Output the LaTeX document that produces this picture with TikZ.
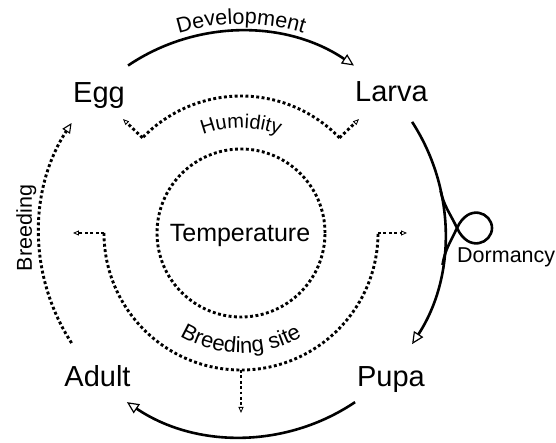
\documentclass[tikz,border=0pt]{standalone}
\usepackage{fontspec}
\setmainfont{Liberation Sans}
\usetikzlibrary{arrows.meta,decorations.text}
\newcommand\stagefont{\fontsize{29}{29}\selectfont}
\newcommand\arcfont{\fontsize{21.5}{21.5}\selectfont}
\newcommand\sitefont{\fontsize{22}{22}\selectfont}
\newcommand\humfont{\fontsize{20}{20}\selectfont}
\begin{document}
\begin{tikzpicture}[x=1pt,y=1pt,
  solidline/.style={line width=2.6pt},
  dotline/.style={line width=2.9pt, dash pattern=on 2.9pt off 2.5pt},
  bigtip/.style={-{Triangle[open,length=12pt,width=11pt,line width=1.2pt]}},
  midtip/.style={-{Triangle[open,length=10pt,width=9pt,line width=1.1pt]}},
  smalltip/.style={-{Triangle[open,length=6pt,width=5pt,line width=0.8pt]}},
  stage/.style={font=\stagefont, anchor=base, inner sep=0pt},
  lbl/.style={inner sep=0pt}]
\useasboundingbox (-241,-210) rectangle (315,233);

% stage labels
\node[stage] (egg) at (-142,130) {Egg};
\node[stage] (larva) at (150.5,131) {Larva};
\node[stage] (adult) at (-143.5,-154) {Adult};
\node[stage] (pupa) at (150,-154) {Pupa};
\node[lbl, font=\fontsize{25}{25}\selectfont, anchor=base] (temp) at (-1,-9) {Temperature};
\node[lbl, font=\fontsize{21.5}{21.5}\selectfont, anchor=base west] (dorm) at (216,-30) {Dormancy};
\node[lbl, font=\arcfont, rotate=90, anchor=base] (breed) at (-209,5) {Breeding};

% temperature circle
\node[draw, circle, dotline, minimum size=168pt, inner sep=0pt] (tcirc) at (0,0) {};

% humidity arc
\coordinate (hL) at (136:137);
\coordinate (hR) at (44:137);
\coordinate (hLt) at (136:164);
\coordinate (hRt) at (44:164);
\draw[dotline] (hR) arc[start angle=44, end angle=136, radius=137];
\draw[dotline, smalltip] (hL) -- (hLt);
\draw[dotline, smalltip] (hR) -- (hRt);
\path[decorate, decoration={text along path, text={|\humfont|Humidity}, text align=center}]
  (135:105) arc[start angle=135, end angle=45, radius=105];

% breeding site arc
\coordinate (bL) at (180:137);
\coordinate (bR) at (0:137);
\coordinate (bB) at (270:137);
\coordinate (bLt) at (-168,0);
\coordinate (bRt) at (166,0);
\coordinate (bBt) at (0,-180);
\draw[dotline] (bL) arc[start angle=180, end angle=360, radius=137];
\draw[dotline, smalltip] (bL) -- (bLt);
\draw[dotline, smalltip] (bR) -- (bRt);
\draw[dotline, smalltip] (bB) -- (bBt);
\path[decorate, decoration={text along path, text={|\sitefont|Breeding site}, text align=center}]
  (215:120) arc[start angle=215, end angle=325, radius=120];

% outer cycle
\coordinate (d1) at (124:202);
\draw[solidline, bigtip] (d1) arc[start angle=124, end angle=56, radius=202];
\path[decorate, decoration={text along path, text={|\arcfont|Development}, text align=center}]
  (130:209) arc[start angle=130, end angle=50, radius=209];

\coordinate (lp1) at (33:204);
\draw[solidline, bigtip] (lp1) arc[start angle=33, end angle=-33, radius=204];

\coordinate (pa1) at (-56:204);
\draw[solidline, bigtip] (pa1) arc[start angle=-56, end angle=-124, radius=204];

\coordinate (ae1) at (213:202);
\draw[dotline, midtip] (ae1) arc[start angle=213, end angle=147, radius=202];

% dormancy loop
\coordinate (dA) at (12:204);
\coordinate (dX) at (216,5);
\coordinate (dR) at (251,5);
\coordinate (dB) at (-9:204);
\draw[solidline] (dA) to[out=-78, in=115] (dX)
  .. controls +(-65:28) and +(-90:15) .. (dR)
  .. controls +(90:15) and +(65:28) .. (dX)
  to[out=-115, in=81] (dB);
\end{tikzpicture}
\end{document}
